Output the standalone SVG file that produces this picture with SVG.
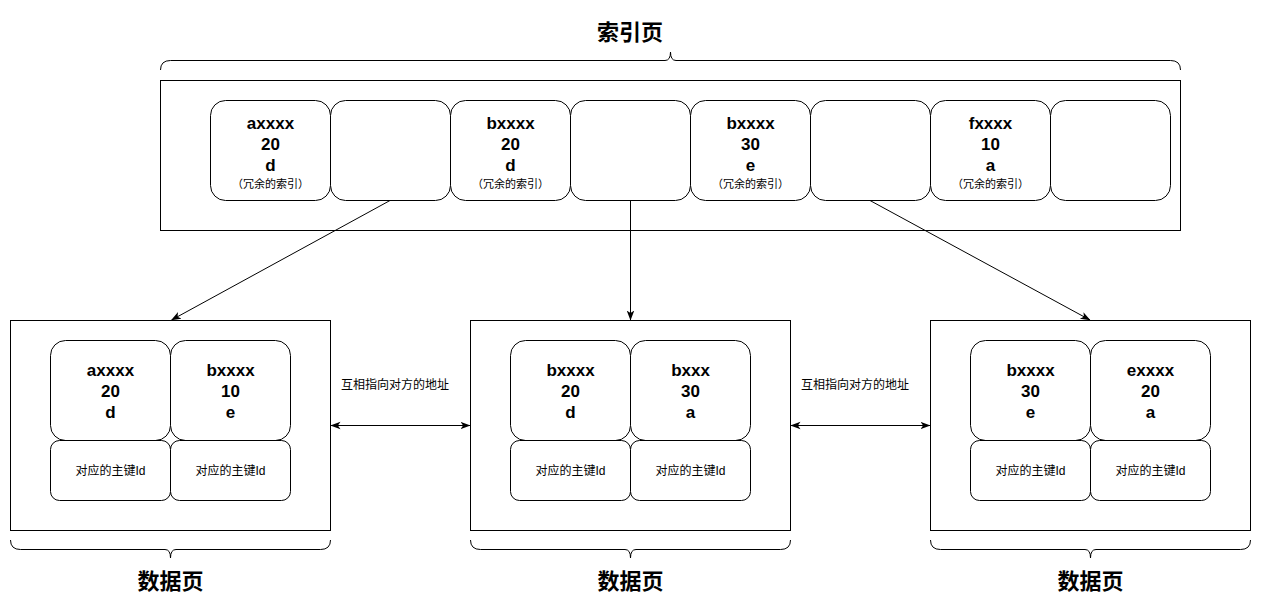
<svg xmlns="http://www.w3.org/2000/svg" width="1261" height="610" viewBox="0 0 1261 610">
<defs>
<style>
.box{fill:#fff;stroke:#000;stroke-width:1}
.cell{fill:#fff;stroke:#000;stroke-width:1}
.brace{fill:none;stroke:#000;stroke-width:1}
.b{font-family:"Liberation Sans","Noto Sans CJK SC",Arial,sans-serif;font-weight:bold;font-size:17px;text-anchor:middle;dominant-baseline:central;fill:#000}
.s{font-family:"Liberation Sans","Noto Sans CJK SC",sans-serif;font-size:11px;text-anchor:middle;dominant-baseline:central;fill:#000}
.m{font-family:"Liberation Sans","Noto Sans CJK SC",sans-serif;font-size:12px;text-anchor:middle;dominant-baseline:central;fill:#000}
.t{font-family:"Noto Sans CJK SC",sans-serif;font-weight:bold;font-size:22px;text-anchor:middle;dominant-baseline:central;fill:#000}
.ln{fill:none;stroke:#000;stroke-width:1}
</style>
<marker id="arr" viewBox="0 0 10 10" refX="9.5" refY="5" markerWidth="10" markerHeight="10" markerUnits="userSpaceOnUse" orient="auto-start-reverse">
<path d="M0,1.2 L10,5 L0,8.8 L2.6,5 z" fill="#000"/>
</marker>
</defs>
<rect width="1261" height="610" fill="#fff"/>

<g id="index-page">
<text class="t" x="630" y="29.5">索引页</text>
<path class="brace" d="M160.5,70 Q160.5,60.5 170.5,60.5 L665,60.5 Q670.5,60.5 670.5,52 Q670.5,60.5 676,60.5 L1170.5,60.5 Q1180.5,60.5 1180.5,70"/>
<rect class="box" x="160.5" y="80.5" width="1020" height="150"/>
</g>

<g id="idx1"><rect class="cell" x="210.5" y="100.5" width="120" height="100" rx="15"/>
<text class="b" x="270.5" y="123">axxxx</text><text class="b" x="270.5" y="144">20</text><text class="b" x="270.5" y="165">d</text><text class="s" x="270.5" y="184">（冗余的索引）</text></g>
<g id="idx2"><rect class="cell" x="330.5" y="100.5" width="120" height="100" rx="15"/></g>
<g id="idx3"><rect class="cell" x="450.5" y="100.5" width="120" height="100" rx="15"/>
<text class="b" x="510.5" y="123">bxxxx</text><text class="b" x="510.5" y="144">20</text><text class="b" x="510.5" y="165">d</text><text class="s" x="510.5" y="184">（冗余的索引）</text></g>
<g id="idx4"><rect class="cell" x="570.5" y="100.5" width="120" height="100" rx="15"/></g>
<g id="idx5"><rect class="cell" x="690.5" y="100.5" width="120" height="100" rx="15"/>
<text class="b" x="750.5" y="123">bxxxx</text><text class="b" x="750.5" y="144">30</text><text class="b" x="750.5" y="165">e</text><text class="s" x="750.5" y="184">（冗余的索引）</text></g>
<g id="idx6"><rect class="cell" x="810.5" y="100.5" width="120" height="100" rx="15"/></g>
<g id="idx7"><rect class="cell" x="930.5" y="100.5" width="120" height="100" rx="15"/>
<text class="b" x="990.5" y="123">fxxxx</text><text class="b" x="990.5" y="144">10</text><text class="b" x="990.5" y="165">a</text><text class="s" x="990.5" y="184">（冗余的索引）</text></g>
<g id="idx8"><rect class="cell" x="1050.5" y="100.5" width="120" height="100" rx="15"/></g>

<g id="data-page-1">
<rect class="box" x="10.5" y="320.5" width="320" height="210"/>
<rect class="cell" x="50.5" y="340.5" width="120" height="100" rx="15"/>
<rect class="cell" x="170.5" y="340.5" width="120" height="100" rx="15"/>
<rect class="cell" x="50.5" y="440.5" width="120" height="60" rx="9"/>
<rect class="cell" x="170.5" y="440.5" width="120" height="60" rx="9"/>
<text class="b" x="110.5" y="370">axxxx</text><text class="b" x="110.5" y="391">20</text><text class="b" x="110.5" y="412">d</text>
<text class="b" x="230.5" y="370">bxxxx</text><text class="b" x="230.5" y="391">10</text><text class="b" x="230.5" y="412">e</text>
<text class="m" x="110.5" y="470.5">对应的主键Id</text><text class="m" x="230.5" y="470.5">对应的主键Id</text>
<path class="brace" d="M10.5,540 Q10.5,549.5 20.5,549.5 L165,549.5 Q170.5,549.5 170.5,558 Q170.5,549.5 176,549.5 L320.5,549.5 Q330.5,549.5 330.5,540"/>
<text class="t" x="170.5" y="578.5">数据页</text>
</g>

<g id="data-page-2">
<rect class="box" x="470.5" y="320.5" width="320" height="210"/>
<rect class="cell" x="510.5" y="340.5" width="120" height="100" rx="15"/>
<rect class="cell" x="630.5" y="340.5" width="120" height="100" rx="15"/>
<rect class="cell" x="510.5" y="440.5" width="120" height="60" rx="9"/>
<rect class="cell" x="630.5" y="440.5" width="120" height="60" rx="9"/>
<text class="b" x="570.5" y="370">bxxxx</text><text class="b" x="570.5" y="391">20</text><text class="b" x="570.5" y="412">d</text>
<text class="b" x="690.5" y="370">bxxx</text><text class="b" x="690.5" y="391">30</text><text class="b" x="690.5" y="412">a</text>
<text class="m" x="570.5" y="470.5">对应的主键Id</text><text class="m" x="690.5" y="470.5">对应的主键Id</text>
<path class="brace" d="M470.5,540 Q470.5,549.5 480.5,549.5 L625,549.5 Q630.5,549.5 630.5,558 Q630.5,549.5 636,549.5 L780.5,549.5 Q790.5,549.5 790.5,540"/>
<text class="t" x="630.5" y="578.5">数据页</text>
</g>

<g id="data-page-3">
<rect class="box" x="930.5" y="320.5" width="320" height="210"/>
<rect class="cell" x="970.5" y="340.5" width="120" height="100" rx="15"/>
<rect class="cell" x="1090.5" y="340.5" width="120" height="100" rx="15"/>
<rect class="cell" x="970.5" y="440.5" width="120" height="60" rx="9"/>
<rect class="cell" x="1090.5" y="440.5" width="120" height="60" rx="9"/>
<text class="b" x="1030.5" y="370">bxxxx</text><text class="b" x="1030.5" y="391">30</text><text class="b" x="1030.5" y="412">e</text>
<text class="b" x="1150.5" y="370">exxxx</text><text class="b" x="1150.5" y="391">20</text><text class="b" x="1150.5" y="412">a</text>
<text class="m" x="1030.5" y="470.5">对应的主键Id</text><text class="m" x="1150.5" y="470.5">对应的主键Id</text>
<path class="brace" d="M930.5,540 Q930.5,549.5 940.5,549.5 L1085,549.5 Q1090.5,549.5 1090.5,558 Q1090.5,549.5 1096,549.5 L1240.5,549.5 Q1250.5,549.5 1250.5,540"/>
<text class="t" x="1090.5" y="578.5">数据页</text>
</g>

<g id="connectors">
<line class="ln" x1="390" y1="200.5" x2="171.5" y2="320" marker-end="url(#arr)"/>
<line class="ln" x1="630.5" y1="200.5" x2="630.5" y2="320" marker-end="url(#arr)"/>
<line class="ln" x1="870" y1="200.5" x2="1090" y2="320" marker-end="url(#arr)"/>
<line class="ln" x1="331" y1="425.5" x2="470" y2="425.5" marker-start="url(#arr)" marker-end="url(#arr)"/>
<line class="ln" x1="791" y1="425.5" x2="930" y2="425.5" marker-start="url(#arr)" marker-end="url(#arr)"/>
<text class="m" x="395" y="385">互相指向对方的地址</text>
<text class="m" x="855" y="385">互相指向对方的地址</text>
</g>
</svg>
